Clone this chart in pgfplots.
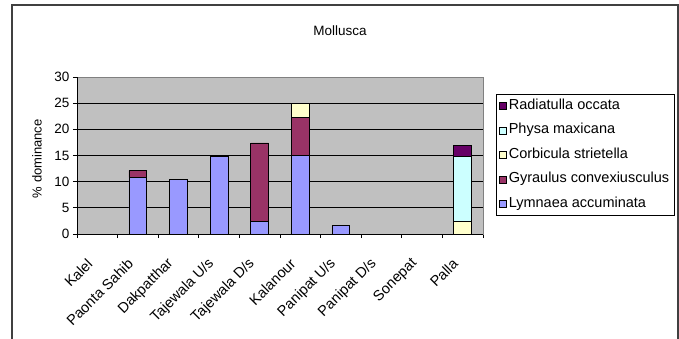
\documentclass[border=0pt]{standalone}
\usepackage{pgfplots}
\pgfplotsset{compat=1.18}
\usepackage{fontspec}
\setmainfont{Liberation Sans}
\definecolor{lym}{HTML}{9999FF}
\definecolor{gyr}{HTML}{993366}
\definecolor{cor}{HTML}{FFFFCC}
\definecolor{phy}{HTML}{CCFFFF}
\definecolor{rad}{HTML}{660066}
\definecolor{bg}{HTML}{C0C0C0}
\begin{document}
\begin{tikzpicture}
\useasboundingbox (-77bp,-105bp) rectangle (602bp,234bp);
\draw[line width=1.5bp, black!75] (-65bp,-106bp) -- (-65bp,229bp) -- (601bp,229bp) -- (601bp,-106bp);
\node[font=\fontsize{13.5bp}{15bp}\selectfont] at (263bp,203bp) {Mollusca};
\begin{axis}[
  scale only axis,
  width=406bp, height=157bp,
  ybar stacked,
  bar width=0.44,
  xmin=-0.5, xmax=9.5,
  ymin=0, ymax=30,
  enlargelimits=false,
  /pgf/number format/assume math mode=true,
  axis background/.style={fill=bg},
  axis line style={draw=black!50},
  ytick={0,5,...,30},
  ymajorgrids,
  grid style={black, line width=0.8bp},
  xtick={0,...,9},
  xticklabels={Kalel,Paonta Sahib,Dakpatthar,Tajewala U/s,Tajewala D/s,Kalanour,Panipat U/s,Panipat D/s,Sonepat,Palla},
  major x tick style={draw=none},
  minor xtick={-0.5,0.5,...,9.5},
  minor tick length=4bp,
  major tick length=4bp,
  tick align=outside,
  tick style={black, line width=0.8bp},
  xtick pos=bottom, ytick pos=left,
  xticklabel style={xshift=-5bp, rotate=45, anchor=east, font=\fontsize{14.5bp}{16bp}\selectfont},
  xticklabel shift=21bp,
  yticklabel style={font=\fontsize{13.5bp}{15bp}\selectfont},
  ylabel={\% dominance},
  ylabel style={at={(axis description cs:-0.0985,0.48)}, anchor=center, font=\fontsize{13bp}{15bp}\selectfont},
  every axis plot/.append style={draw=black, line width=0.8bp},
  reverse legend,
  legend cell align=left,
  legend image code/.code={\draw[#1, draw=black, line width=0.6bp] (0bp,-3.5bp) rectangle (7bp,3.5bp);},
  legend style={at={(axis description cs:1.032,0.892)}, anchor=north west, draw=black, fill=white,
    font=\fontsize{14.5bp}{16bp}\selectfont, row sep=7bp, inner sep=3bp,
    nodes={inner sep=2bp, text height=10bp, text depth=3.5bp}},
]
\addplot[fill=lym] coordinates {(0,0) (1,10.8) (2,10.5) (3,14.8) (4,2.4) (5,15.0) (6,1.6) (7,0) (8,0) (9,0)};
\addplot[fill=gyr] coordinates {(0,0) (1,1.3) (2,0) (3,0.1) (4,15.0) (5,7.3) (6,0) (7,0) (8,0) (9,0)};
\addplot[fill=cor] coordinates {(0,0) (1,0) (2,0) (3,0) (4,0) (5,2.7) (6,0) (7,0) (8,0) (9,2.4)};
\addplot[fill=phy] coordinates {(0,0) (1,0) (2,0) (3,0) (4,0) (5,0) (6,0) (7,0) (8,0) (9,12.5)};
\addplot[fill=rad] coordinates {(0,0) (1,0) (2,0) (3,0) (4,0) (5,0) (6,0) (7,0) (8,0) (9,2.1)};
\legend{Lymnaea accuminata,Gyraulus convexiusculus,Corbicula strietella,Physa maxicana,Radiatulla occata}
\draw[black, line width=0.8bp] (rel axis cs:0,1) -- (rel axis cs:0,0) -- (rel axis cs:1,0);
\end{axis}
\end{tikzpicture}
\end{document}
